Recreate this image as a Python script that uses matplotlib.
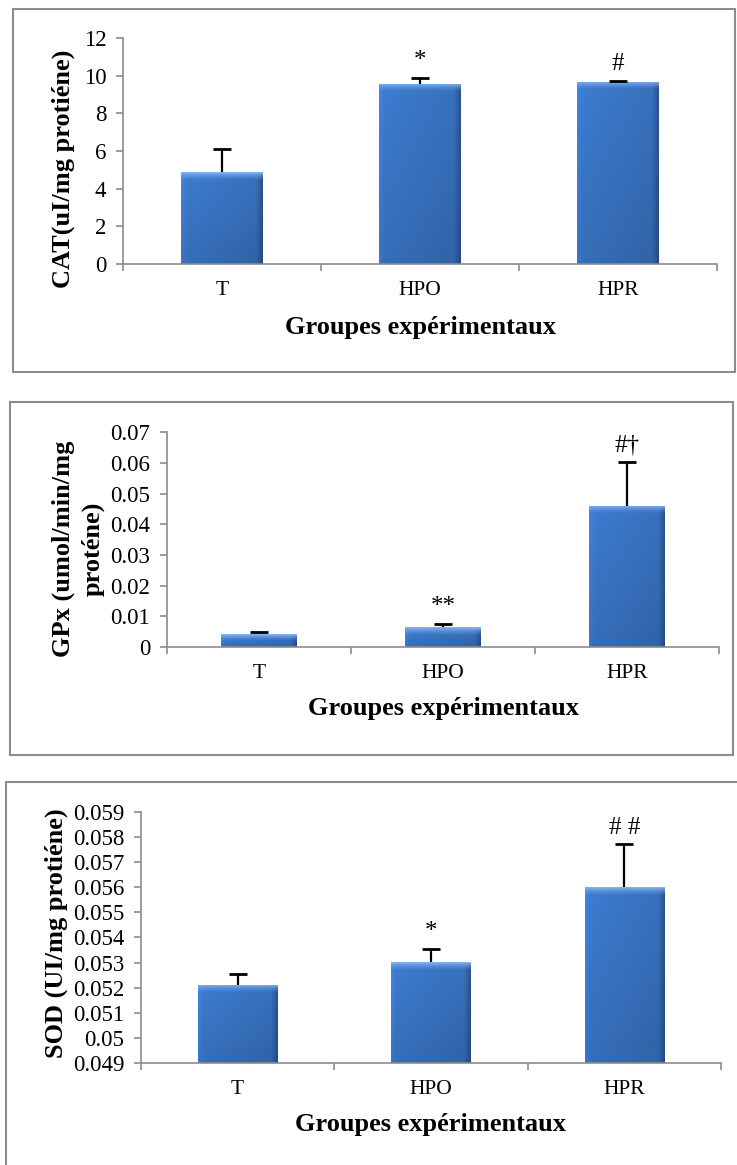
import numpy as np
import matplotlib
matplotlib.use("Agg")
import matplotlib.pyplot as plt
from matplotlib.patches import Rectangle

plt.rcParams['font.family'] = ['Liberation Serif', 'DejaVu Serif']

groups = ["T", "HPO", "HPR"]

cat_values = [4.88, 9.56, 9.67]
cat_err = [1.2, 0.32, 0.07]
cat_marks = ["", "*", "#"]
cat_ticks = [0, 2, 4, 6, 8, 10, 12]
cat_ticklabels = ["0", "2", "4", "6", "8", "10", "12"]

gpx_values = [0.0041, 0.0065, 0.0460]
gpx_err = [0.0008, 0.0011, 0.0143]
gpx_marks = ["", "**", "#\u2020"]
gpx_ticks = [0, 0.01, 0.02, 0.03, 0.04, 0.05, 0.06, 0.07]
gpx_ticklabels = ["0", "0.01", "0.02", "0.03", "0.04", "0.05", "0.06", "0.07"]

sod_values = [0.05211, 0.05301, 0.05599]
sod_err = [0.00044, 0.00053, 0.00172]
sod_marks = ["", "*", "# #"]
sod_ticks = [0.049, 0.050, 0.051, 0.052, 0.053, 0.054, 0.055, 0.056, 0.057, 0.058, 0.059]
sod_ticklabels = ["0.049", "0.05", "0.051", "0.052", "0.053", "0.054", "0.055",
                  "0.056", "0.057", "0.058", "0.059"]

fig = plt.figure(figsize=(7.37, 11.65), dpi=100)

# panel frames
for (l, b, w, h) in [(0.0176, 0.6807, 0.980, 0.3116),
                     (0.0136, 0.352, 0.981, 0.303),
                     (0.008, -0.01, 1.0, 0.3388)]:
    fig.patches.append(Rectangle((l, b), w, h, transform=fig.transFigure,
                                 fill=False, edgecolor="#8c8c8c", linewidth=1.5))


def shade_bar(ax, patch):
    x0, y0 = patch.get_x(), patch.get_y()
    w, h = patch.get_width(), patch.get_height()
    p0 = ax.transData.transform((x0, y0))
    p1 = ax.transData.transform((x0 + w, y0 + h))
    nw = max(int(abs(p1[0] - p0[0])), 2)
    nh = max(int(abs(p1[1] - p0[1])), 2)
    u = np.linspace(0, 1, nw)
    v = np.arange(nh)
    base = np.array([0.24, 0.49, 0.82])
    fx = 1.0 - 0.10 * u - 0.22 * np.clip((u - 0.92) / 0.08, 0, 1)
    fx = fx + 0.07 * np.clip((0.06 - u) / 0.06, 0, 1)
    fy = 1.0 - 0.12 * (v / nh)
    img = base[None, None, :] * fx[None, :, None] * fy[:, None, None]
    light = np.array([0.50, 0.70, 0.93])
    bev = min(8, nh // 2)
    for r in range(bev):
        t = (1 - r / bev) ** 1.5
        img[r] = img[r] * (1 - t) + light * t
    img = np.clip(img, 0, 1)
    im = ax.imshow(img, extent=(x0, x0 + w, y0, y0 + h), origin="upper",
                   aspect="auto", zorder=2, interpolation="bilinear")
    im.set_clip_path(patch)
    patch.set_facecolor("none")
    patch.set_edgecolor("none")


def panel(rect, values, err, marks, ticks, ticklabels, ylim, ylabel,
          ylab_pos, xlab_y, linespacing=1.2):
    ax = fig.add_axes(rect)
    x = np.arange(len(groups))
    bottom = ylim[0]
    heights = [v - bottom for v in values]
    bars = ax.bar(x, heights, bottom=bottom, width=0.41, zorder=2)
    ax.set_xlim(-0.5, len(groups) - 0.5)
    ax.set_ylim(*ylim)
    for b in bars:
        shade_bar(ax, b)
    tops = [v + e for v, e in zip(values, err)]
    ax.vlines(x, values, tops, color="black", linewidth=1.6, zorder=3)
    ax.plot(x, tops, linestyle="none", marker="_", markersize=13,
            markeredgewidth=2.0, color="black", zorder=3)
    for xi, t, m in zip(x, tops, marks):
        if m:
            ax.annotate(m, xy=(xi, t), xytext=(0, 12), textcoords="offset points",
                        ha="center", va="center", fontsize=18)
    ax.set_xlim(-0.5, len(groups) - 0.5)
    ax.set_ylim(*ylim)
    ax.set_yticks(ticks)
    ax.set_yticklabels(ticklabels)
    ax.set_xticks(x)
    ax.set_xticklabels(groups)
    ax.set_xticks(np.arange(len(groups) + 1) - 0.5, minor=True)
    ax.tick_params(axis="x", which="major", length=0, pad=12, labelsize=15.5)
    ax.tick_params(axis="x", which="minor", length=5, color="#8c8c8c", width=1.2)
    ax.tick_params(axis="y", length=5, color="#8c8c8c", width=1.2, pad=7, labelsize=16.5)
    for s in ["top", "right"]:
        ax.spines[s].set_visible(False)
    for s in ["left", "bottom"]:
        ax.spines[s].set_color("#8c8c8c")
        ax.spines[s].set_linewidth(1.2)
    ax.set_ylabel(ylabel, fontsize=19, fontweight="bold", linespacing=linespacing)
    ax.yaxis.set_label_coords(*ylab_pos)
    ax.yaxis.label.set_va("center")
    ax.set_xlabel("Groupes expérimentaux", fontsize=19, fontweight="bold")
    ax.xaxis.set_label_coords(0.5, xlab_y)
    ax.xaxis.label.set_va("center")
    return ax


panel([0.1669, 0.7734, 0.806, 0.194], cat_values, cat_err, cat_marks,
      cat_ticks, cat_ticklabels, (0, 12), "CAT(uI/mg protiéne)",
      (-0.101, 0.42), -0.279)

panel([0.2266, 0.4446, 0.749, 0.1845], gpx_values, gpx_err, gpx_marks,
      gpx_ticks, gpx_ticklabels, (0, 0.07), "GPx (umol/min/mg\nproténe)",
      (-0.161, 0.456), -0.284, linespacing=1.3)

panel([0.1913, 0.0876, 0.787, 0.2155], sod_values, sod_err, sod_marks,
      sod_ticks, sod_ticklabels, (0.049, 0.059), "SOD (UI/mg protiéne)",
      (-0.1466, 0.518), -0.247)

fig.savefig("out.png", dpi=100)
